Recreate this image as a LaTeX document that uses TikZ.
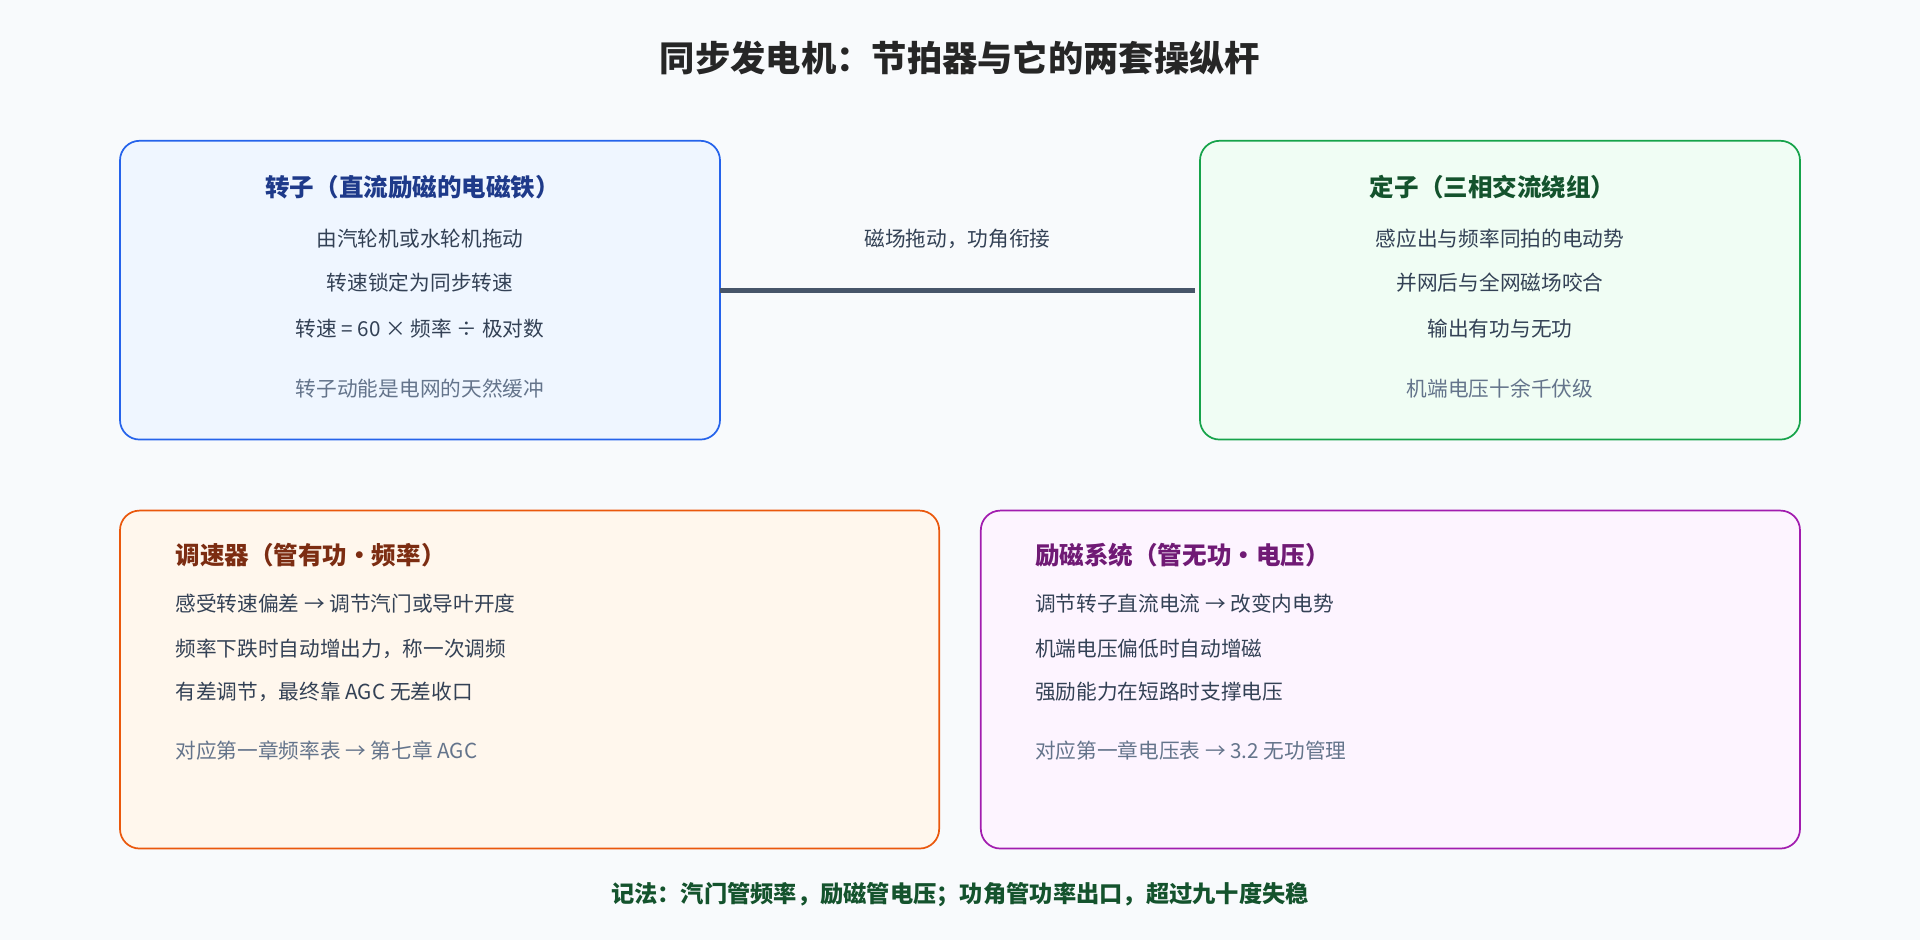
\documentclass[tikz,border=0pt]{standalone}
\usepackage{fontspec}
\setmainfont{Noto Sans CJK SC}
\definecolor{bgc}{HTML}{F8FAFC}
\definecolor{rotorc}{HTML}{2563EB}\definecolor{rotorf}{HTML}{EFF6FF}\definecolor{rotort}{HTML}{1E3A8A}
\definecolor{statorc}{HTML}{16A34A}\definecolor{statorf}{HTML}{F0FDF4}\definecolor{statort}{HTML}{14532D}
\definecolor{govc}{HTML}{EA580C}\definecolor{govf}{HTML}{FFF7ED}\definecolor{govt}{HTML}{7C2D12}
\definecolor{excc}{HTML}{A21CAF}\definecolor{excf}{HTML}{FDF4FF}\definecolor{exct}{HTML}{701A75}
\definecolor{textc}{HTML}{334155}\definecolor{notec}{HTML}{64748B}\definecolor{linec}{HTML}{475569}
\tikzset{
  box/.style={draw, rounded corners=0.16cm, line width=0.4pt},
  boxtitle/.style={font=\fontsize{5.7}{7}\selectfont\bfseries},
  line/.style={font=\fontsize{4.8}{6}\selectfont, text=textc},
  note/.style={font=\fontsize{4.8}{6}\selectfont, text=notec}
}
\begin{document}
\begin{tikzpicture}[x=0.01cm, y=-0.01cm]
		\fill [bgc] (0, 0) rectangle (1568, 768);
		\node [font=\fontsize{8.2}{10}\selectfont\bfseries, text=black!85] (title) at (784, 47) {同步发电机：节拍器与它的两套操纵杆};
		% upper boxes
		\draw [box, draw=rotorc, fill=rotorf] (98, 115) rectangle (588, 359);
		\coordinate (rotor) at (588, 237);
		\node [boxtitle, text=rotort] (rt) at (337, 153) {转子（直流励磁的电磁铁）};
		\node [line] (r1) at (343, 195) {由汽轮机或水轮机拖动};
		\node [line] (r2) at (343, 231) {转速锁定为同步转速};
		\node [line] (r3) at (343, 268) {转速 = 60 × 频率 ÷ 极对数};
		\node [note] (r4) at (343, 317) {转子动能是电网的天然缓冲};
		\draw [box, draw=statorc, fill=statorf] (980, 115) rectangle (1470, 359);
		\coordinate (stator) at (976, 237);
		\node [boxtitle, text=statort] (st) at (1219, 153) {定子（三相交流绕组）};
		\node [line] (s1) at (1225, 195) {感应出与频率同拍的电动势};
		\node [line] (s2) at (1225, 231) {并网后与全网磁场咬合};
		\node [line] (s3) at (1225, 268) {输出有功与无功};
		\node [note] (s4) at (1225, 317) {机端电压十余千伏级};
		\draw [linec, line width=1.2pt] (rotor) -- node [above=0.2cm, line] {磁场拖动，功角衔接} (stator);
		% lower boxes
		\draw [box, draw=govc, fill=govf] (98, 417) rectangle (767, 693);
		\node [boxtitle, text=govt, anchor=west] (gt) at (131, 453) {调速器（管有功・频率）};
		\node [line, anchor=west] (g1) at (131, 493) {感受转速偏差 → 调节汽门或导叶开度};
		\node [line, anchor=west] (g2) at (131, 530) {频率下跌时自动增出力，称一次调频};
		\node [line, anchor=west] (g3) at (131, 565) {有差调节，最终靠 AGC 无差收口};
		\node [note, anchor=west] (g4) at (131, 613) {对应第一章频率表 → 第七章 AGC};
		\draw [box, draw=excc, fill=excf] (801, 417) rectangle (1470, 693);
		\node [boxtitle, text=exct, anchor=west] (et) at (833, 453) {励磁系统（管无功・电压）};
		\node [line, anchor=west] (e1) at (833, 493) {调节转子直流电流 → 改变内电势};
		\node [line, anchor=west] (e2) at (833, 530) {机端电压偏低时自动增磁};
		\node [line, anchor=west] (e3) at (833, 565) {强励能力在短路时支撑电压};
		\node [note, anchor=west] (e4) at (833, 613) {对应第一章电压表 → 3.2 无功管理};
		\node [font=\fontsize{5.4}{7}\selectfont\bfseries, text=statort] (foot) at (784, 731) {记法：汽门管频率，励磁管电压；功角管功率出口，超过九十度失稳};
	\end{tikzpicture}
\end{document}
